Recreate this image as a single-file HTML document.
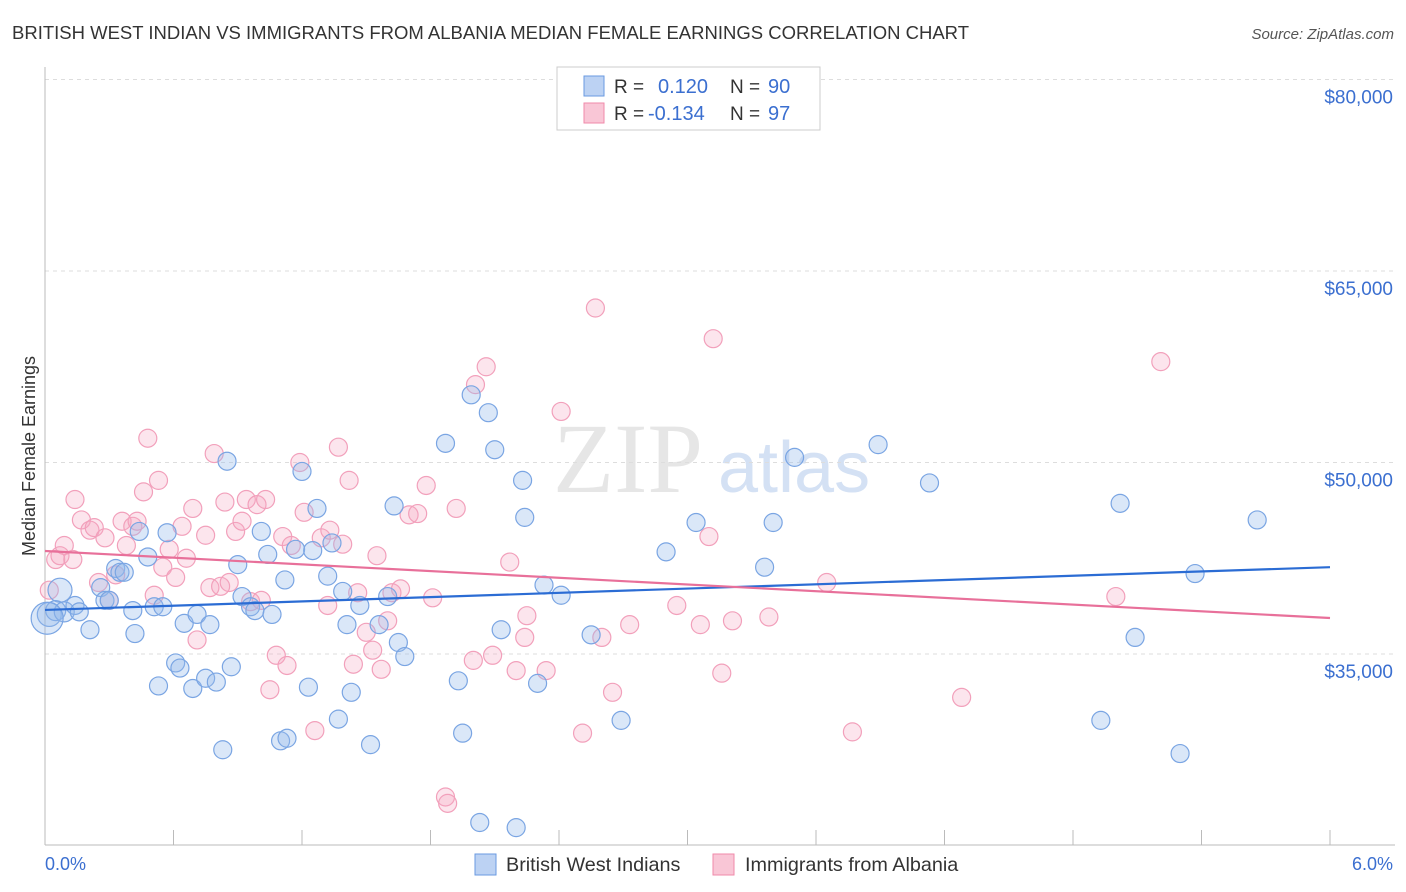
<!DOCTYPE html>
<html><head><meta charset="utf-8"><style>
html,body{margin:0;padding:0;background:#fff;}
svg{display:block;font-family:"Liberation Sans",sans-serif;}
</style></head><body>
<svg id="chart" width="1406" height="892">
<text x="12" y="39" font-size="18.5" fill="#333">BRITISH WEST INDIAN VS IMMIGRANTS FROM ALBANIA MEDIAN FEMALE EARNINGS CORRELATION CHART</text>
<text x="1394" y="39" font-size="15" fill="#555" font-style="italic" text-anchor="end">Source: ZipAtlas.com</text>
<text x="35" y="456" font-size="18" fill="#333" text-anchor="middle" transform="rotate(-90 35 456)">Median Female Earnings</text>
<g>
<text x="553" y="492" font-family="Liberation Serif,serif" font-size="100" fill="#e6e6e6">ZIP</text>
<text x="718" y="492" font-size="72" fill="#d4e1f4">atlas</text>
</g>
<g id="grid"></g><g id="axes"></g><g id="marks"></g><g id="trends"></g>
<g>
<rect x="557" y="67" width="263" height="63" fill="#fff" stroke="#ccc"/>
<rect x="584" y="76" width="20" height="20" fill="#bcd2f3" stroke="#6a9ae0"/>
<text x="614" y="93" font-size="19" fill="#333">R = </text><text x="658" y="93" font-size="20" fill="#3b6fd0">0.120</text>
<text x="730" y="93" font-size="19" fill="#333">N = </text><text x="768" y="93" font-size="20" fill="#3b6fd0">90</text>
<rect x="584" y="103" width="20" height="20" fill="#f9c6d6" stroke="#f08aaa"/>
<text x="614" y="120" font-size="19" fill="#333">R = </text><text x="648" y="120" font-size="20" fill="#3b6fd0">-0.134</text>
<text x="730" y="120" font-size="19" fill="#333">N = </text><text x="768" y="120" font-size="20" fill="#3b6fd0">97</text>
</g>
<g>
<rect x="475" y="854" width="21" height="21" fill="#bcd2f3" stroke="#6a9ae0"/>
<text x="506" y="871" font-size="19.8" fill="#333">British West Indians</text>
<rect x="713" y="854" width="21" height="21" fill="#f9c6d6" stroke="#f08aaa"/>
<text x="745" y="871" font-size="19.8" fill="#333">Immigrants from Albania</text>
</g>
</svg>
<script>
const yTicks=[35000,50000,65000,80000];
const yTickLabels=["$35,000","$50,000","$65,000","$80,000"];
const xTickVals=[0,0.6,1.2,1.8,2.4,3.0,3.6,4.2,4.8,5.4,6.0];
const xEndLabels=["0.0%","6.0%"];
const blueX=[0.02,0.07,0.05,0.09,0.14,0.16,0.21,0.26,0.28,0.30,0.33,0.35,0.37,0.41,0.42,0.44,0.48,0.51,0.53,0.55,0.57,0.61,0.63,0.65,0.69,0.71,0.75,0.77,0.80,0.83,0.85,0.87,0.90,0.92,0.96,0.98,1.01,1.04,1.06,1.10,1.12,1.13,1.17,1.20,1.23,1.25,1.27,1.32,1.34,1.37,1.39,1.41,1.43,1.47,1.52,1.56,1.60,1.63,1.65,1.68,1.87,1.93,1.95,1.99,2.03,2.07,2.10,2.13,2.20,2.23,2.24,2.30,2.33,2.41,2.55,2.69,2.90,3.04,3.36,3.40,3.50,3.89,4.13,4.93,5.02,5.09,5.30,5.37,5.66,0.01];
const blueY=[38100,40000,38400,38300,38800,38300,36900,40200,39200,39200,41700,41400,41400,38400,36600,44600,42600,38700,32500,38700,44500,34300,33900,37400,32300,38100,33100,37300,32800,27500,50100,34000,42000,39500,38700,38400,44600,42800,38100,28200,40800,28400,43200,49300,32400,43100,46400,41100,43700,29900,39900,37300,32000,38800,27900,37300,39500,46600,35900,34800,51500,32900,28800,55300,21800,53900,51000,36900,21400,48600,45700,32700,40400,39600,36500,29800,43000,45300,41800,45300,50400,51400,48400,29800,46800,36300,27200,41300,45500,37800];
const blueR=[12,12,10,10,9,9,9,9,9,9,9,9,9,9,9,9,9,9,9,9,9,9,9,9,9,9,9,9,9,9,9,9,9,9,9,9,9,9,9,9,9,9,9,9,9,9,9,9,9,9,9,9,9,9,9,9,9,9,9,9,9,9,9,9,9,9,9,9,9,9,9,9,9,9,9,9,9,9,9,9,9,9,9,9,9,9,9,9,9,16];
const pinkX=[0.02,0.05,0.07,0.09,0.13,0.14,0.17,0.21,0.23,0.25,0.28,0.30,0.33,0.36,0.38,0.41,0.43,0.46,0.48,0.51,0.53,0.55,0.58,0.61,0.64,0.66,0.69,0.71,0.75,0.77,0.79,0.82,0.84,0.86,0.89,0.92,0.94,0.96,0.99,1.01,1.03,1.05,1.08,1.11,1.13,1.15,1.19,1.21,1.26,1.29,1.32,1.33,1.37,1.39,1.42,1.44,1.46,1.50,1.53,1.55,1.57,1.60,1.62,1.66,1.70,1.74,1.78,1.81,1.87,1.88,1.92,2.00,2.01,2.06,2.09,2.17,2.20,2.24,2.25,2.34,2.41,2.51,2.57,2.60,2.65,2.73,2.95,3.06,3.10,3.12,3.16,3.21,3.38,3.65,3.77,4.28,5.00,5.21];
const pinkY=[40000,42400,42700,43500,42400,47100,45500,44700,44900,40600,44100,39200,41200,45400,43500,45000,45400,47700,51900,39600,48600,41800,43200,41000,45000,42500,46400,36100,44300,40200,50700,40300,46900,40600,44600,45400,47100,39100,46700,39200,47100,32200,34900,44200,34100,43500,50000,46100,29000,44100,38800,44700,51200,43600,48600,34200,39800,36700,35300,42700,33800,37600,39800,40100,45900,46000,48200,39400,23800,23300,46400,34500,56100,57500,34900,42200,33700,36300,38000,33700,54000,28800,62100,36300,32000,37300,38800,37300,44200,59700,33500,37600,37900,40600,28900,31600,39500,57900];
const trendX=[0,6];
const blueTrendY=[38450,41800];
const pinkTrendY=[43070,37820];

const NS="http://www.w3.org/2000/svg";
const X0=45,X1=1330,YB=845;
function sx(v){return X0+(v/6)*(X1-X0);}
function sy(v){return 654-(v-35000)*(191.5/15000);}
function mk(tag,attrs,parent){const e=document.createElementNS(NS,tag);for(const k in attrs)e.setAttribute(k,attrs[k]);parent.appendChild(e);return e;}
const grid=document.getElementById('grid'),axes=document.getElementById('axes'),marks=document.getElementById('marks'),trends=document.getElementById('trends');
yTicks.forEach((t,i)=>{
  const l=mk('line',{x1:X0,x2:1395,y1:sy(t),y2:sy(t),stroke:'#ddd','stroke-dasharray':'4 4'},grid);
  
  
  const tx=mk('text',{x:1393,y:sy(t)+24,'font-size':19,fill:'#3b6fd0','text-anchor':'end'},grid);
  tx.textContent=yTickLabels[i];
  
  
});
const ya=mk('line',{x1:X0,x2:X0,y1:67,y2:YB,stroke:'#bbb'},axes);


const xa=mk('line',{x1:X0,x2:1395,y1:YB,y2:YB,stroke:'#bbb'},axes);


xTickVals.forEach(v=>{
  const t=mk('line',{x1:sx(v),x2:sx(v),y1:YB-15,y2:YB,stroke:'#bbb'},axes);
  
  
});
const xl0=mk('text',{x:X0,y:870,'font-size':18,fill:'#3b6fd0'},axes);xl0.textContent=xEndLabels[0];


const xl1=mk('text',{x:1393,y:870,'font-size':18,fill:'#3b6fd0','text-anchor':'end'},axes);xl1.textContent=xEndLabels[1];


pinkX.forEach((v,i)=>{
  const c=mk('circle',{cx:sx(v),cy:sy(pinkY[i]),r:9,fill:'rgba(245,170,195,0.3)',stroke:'#f2a0bb','stroke-width':1.2},marks);
  
  
});
blueX.forEach((v,i)=>{
  const c=mk('circle',{cx:sx(v),cy:sy(blueY[i]),r:blueR[i],fill:'rgba(150,185,235,0.35)',stroke:'#7aa5e3','stroke-width':1.2},marks);
  
  
});
const bt=mk('line',{x1:sx(trendX[0]),x2:sx(trendX[1]),y1:sy(blueTrendY[0]),y2:sy(blueTrendY[1]),stroke:'#2b6cd4','stroke-width':2.2},trends);


const pt=mk('line',{x1:sx(trendX[0]),x2:sx(trendX[1]),y1:sy(pinkTrendY[0]),y2:sy(pinkTrendY[1]),stroke:'#e8709a','stroke-width':2.2},trends);


</script>
</body></html>
